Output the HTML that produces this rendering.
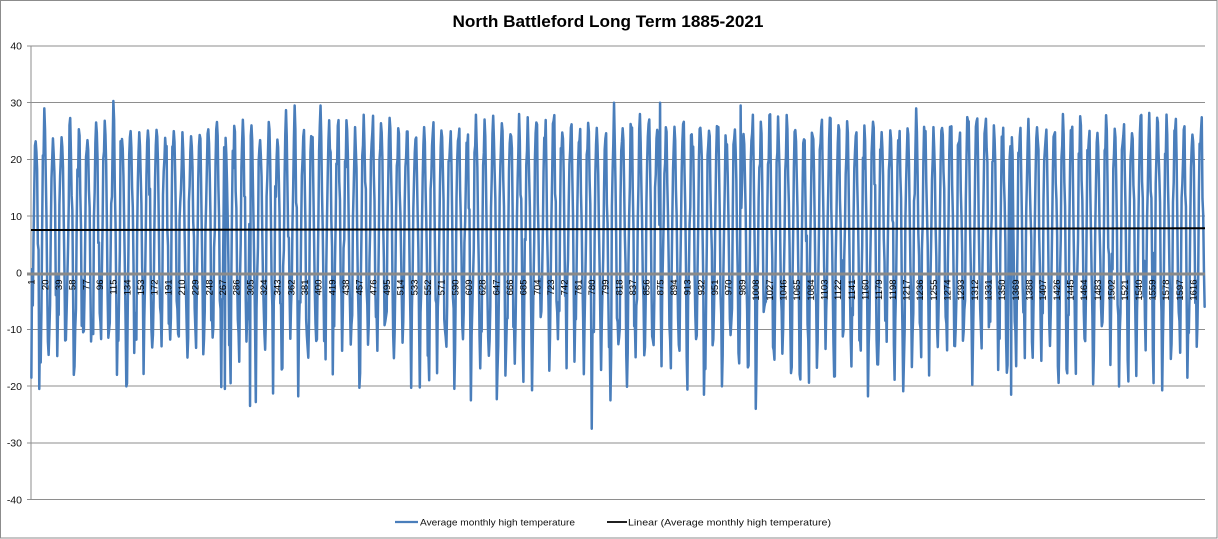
<!DOCTYPE html>
<html>
<head>
<meta charset="utf-8">
<style>
  html,body{margin:0;padding:0;background:#fff;}
  svg{display:block;}
  text{font-family:"Liberation Sans",Arial,sans-serif;}
</style>
</head>
<body>
<svg id="c" width="1218" height="539" viewBox="0 0 1218 539" xmlns="http://www.w3.org/2000/svg">
  <rect x="0" y="0" width="1218" height="539" fill="#fff"/>
  <rect x="0.5" y="0.5" width="1216.5" height="537.5" fill="none" stroke="#8c8c8c" stroke-width="1"/>
  <text x="608" y="27" font-size="17" font-weight="bold" text-anchor="middle" fill="#000" textLength="311" lengthAdjust="spacingAndGlyphs">North Battleford Long Term 1885-2021</text>

  <g id="grid" stroke="#8e8e8e" stroke-width="1" shape-rendering="crispEdges">
    <line x1="27" y1="46" x2="1205" y2="46"/>
    <line x1="27" y1="102.7" x2="1205" y2="102.7"/>
    <line x1="27" y1="159.4" x2="1205" y2="159.4"/>
    <line x1="27" y1="216.1" x2="1205" y2="216.1"/>
    <line x1="27" y1="329.5" x2="1205" y2="329.5"/>
    <line x1="27" y1="386.2" x2="1205" y2="386.2"/>
    <line x1="27" y1="442.9" x2="1205" y2="442.9"/>
    <line x1="27" y1="499.6" x2="1205" y2="499.6"/>
    <line x1="31" y1="46" x2="31" y2="499.6"/>
  </g>
  <g font-size="10.5" fill="#111" text-anchor="end">
    <text x="22" y="49.7">40</text>
    <text x="22" y="106.4">30</text>
    <text x="22" y="163.1">20</text>
    <text x="22" y="219.8">10</text>
    <text x="22" y="276.5">0</text>
    <text x="22" y="333.2">-10</text>
    <text x="22" y="389.9">-20</text>
    <text x="22" y="446.6">-30</text>
    <text x="22" y="503.3">-40</text>
  </g>

  <path id="series" d="" fill="none" stroke="#4a7ebb" stroke-width="2.5" stroke-linejoin="round" stroke-linecap="round"/>
  <line x1="31" y1="230" x2="1205" y2="228.3" stroke="#000" stroke-width="2"/>
  <line x1="27" y1="274" x2="1205" y2="274" stroke="#8a8a8a" stroke-width="3"/>
  <g id="cats" font-size="9.5" fill="#000"></g>

  <line x1="395" y1="522" x2="418" y2="522" stroke="#4a7ebb" stroke-width="2.25"/>
  <text x="420" y="525.5" font-size="9.5" fill="#111" textLength="155" lengthAdjust="spacingAndGlyphs">Average monthly high temperature</text>
  <line x1="607" y1="522" x2="627" y2="522" stroke="#000" stroke-width="1.8"/>
  <text x="628" y="525.5" font-size="9.5" fill="#111" textLength="203" lengthAdjust="spacingAndGlyphs">Linear (Average monthly high temperature)</text>
</svg>
<script>
(function(){
  var N=1632, W=1174/N, X0=31;
  function X(i){return X0+(i+0.5)*W;}
  function Y(v){return 272.8-v*5.67;}
  var s=987654321;
  function rnd(){s|=0;s=s+0x6D2B79F5|0;var t=Math.imul(s^s>>>15,1|s);t=t+Math.imul(t^t>>>7,61|t)^t;return((t^t>>>14)>>>0)/4294967296;}
  function gauss(){var u=rnd()||1e-9,v=rnd();return Math.sqrt(-2*Math.log(u))*Math.cos(2*Math.PI*v);}
  var M=[-13.5,-10.5,-3,9,18,22.5,25.5,24.5,17,9.5,-1,-9];
  var S=[4.5,4.5,4,3,2.5,2,1.5,1.7,2.2,2.5,3.5,4];
  var d=[];
  for(var i=0;i<N;i++){
    var m=i%12, v=M[m]+S[m]*gauss();
    if(m==6||m==7){ if(v>28) v=28-(v-28)*0.3; }
    if(v<-20) v=-20+(v+20)*0.4;
    d.push(v);
  }
  function idx(x){return Math.max(0,Math.min(N-1,Math.round((x-X0)/W-0.5)));}
  function setPeak(x,v){
    var i=idx(x),best=i;
    for(var k=i-2;k<=i+2;k++){ if(k>=0&&k<N&&(k%12==6||k%12==7)){best=k;break;} }
    var y0=best-(best%12);
    for(var k=y0+5;k<y0+8;k++){ if(k!=best && d[k]>v-0.5) d[k]=v-1-rnd()*2; }
    d[best]=v;
  }
  function setTrough(x,v){
    var i=idx(x),best=i;
    for(var k=i-2;k<=i+2;k++){ if(k>=0&&k<N&&(k%12==0||k%12==1||k%12==11)){best=k;break;} }
    d[best]=v;
  }
  var peaks=[[36.3,23.2],[45,29],[54,23.7],[62.3,23.9],[71,27.3],[79.7,25.3],[88.3,23.4],[97,26.5],[106,26.8],[114.3,30.3],[122.7,23.6],[131.7,25],[140.3,24.8],[148.7,25.1],[157,25.2],[166,23.8],[175,25],[183,24.8],[191,24.1],[200,24.3],[209.3,25.3],[217.7,26.6],[226.3,23.8],[235,25.9],[244,27],[252,26],[260.7,23.4],[268.7,26.6],[278,23.5],[286.7,28.7],[295.3,29.5],
    [322,29.5],[520,28],[615,30],[640,28],[660,30],[741,29.5],[915,29],[1062,28],[1105,27.8],[1148,28.2],[1166,27.9]];
  peaks.forEach(function(p){setPeak(p[0],p[1]);});
  var troughs=[[41,-20.5],[75,-18],[117,-18],[225,-20.5],[250,-23.5],[257,-22.8],[297,-21.8],[470,-22.5],[498,-22.3],[592,-27.5],[612,-22.5],[705,-21.5],[757,-24],[868,-21.8],[1011,-21.5],[1187,-18.5]];
  troughs.forEach(function(p){setTrough(p[0],p[1]);});
  d[0]=-18.5; d[N-1]=-6;
  var p='M'+X(0).toFixed(2)+' '+Y(d[0]).toFixed(1);
  for(var i=1;i<N;i++) p+='L'+X(i).toFixed(2)+' '+Y(d[i]).toFixed(1);
  document.getElementById('series').setAttribute('d',p);
  var g=document.getElementById('cats'), ns='http://www.w3.org/2000/svg';
  for(var c=1;c<=N;c+=19){
    var x=X(c-1);
    if(x>1205) break;
    var t=document.createElementNS(ns,'text');
    t.setAttribute('transform','translate('+x.toFixed(2)+',279.5) rotate(-90)');
    t.setAttribute('text-anchor','end');
    t.setAttribute('dy','0.35em');
    t.textContent=String(c);
    g.appendChild(t);
  }
})();
</script>
</body>
</html>
